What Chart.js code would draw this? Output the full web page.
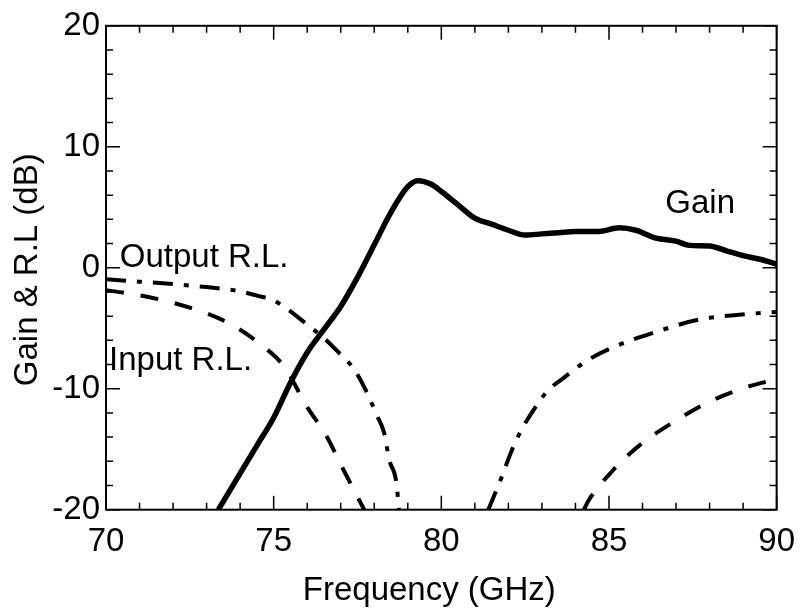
<!DOCTYPE html>
<html>
<head>
<meta charset="utf-8">
<script src="https://cdn.jsdelivr.net/npm/chart.js@4/dist/chart.umd.min.js"></script>
<style>
  html, body { margin: 0; padding: 0; background: #fff; }
  #chart { display: block; }
</style>
</head>
<body>
<canvas id="chart" width="807" height="608"></canvas>
<script>
// values (GHz / dB)
const gainFreq = [73.35, 74, 74.5, 75, 75.5, 76, 76.5, 77, 77.5, 78, 78.5, 79, 79.3, 79.7, 80, 80.5, 81, 81.5, 82, 82.5, 83, 83.5, 84, 84.7, 85.3, 85.8, 86.4, 87, 87.4, 88, 88.5, 89, 89.5, 90];
const gainDb = [-20, -17.0, -14.7, -12.4, -9.5, -7.0, -5.1, -3.2, -0.8, 1.9, 4.6, 6.7, 7.2, 6.9, 6.3, 5.2, 4.1, 3.6, 3.1, 2.7, 2.8, 2.9, 3.0, 3.0, 3.3, 3.1, 2.45, 2.2, 1.85, 1.8, 1.4, 1.0, 0.7, 0.3];

const outputFreq = [70, 71, 72, 73, 73.9, 74.5, 75, 75.5, 76, 76.5, 76.9, 77.4, 77.76, 78.06, 78.3, 78.45, 78.65, 78.74, 80, 81.4, 81.8, 82.1, 82.37, 82.67, 83.16, 83.65, 84.33, 85.1, 86.3, 87.66, 89.04, 90];
const outputDb = [-0.95, -1.15, -1.35, -1.6, -1.9, -2.3, -2.7, -3.6, -4.7, -5.8, -6.9, -8.4, -10.2, -12.1, -13.7, -15.9, -17.6, -20, null, -20, -17.3, -15.1, -13.5, -12.1, -10.2, -9.1, -7.7, -6.6, -5.4, -4.3, -3.85, -3.65];

const inputFreq = [70, 70.6, 71.4, 72.5, 73.6, 74.5, 75.35, 75.95, 76.55, 77.1, 77.7, 80, 84.25, 84.4, 85.1, 85.9, 86.9, 87.9, 88.95, 90];
const inputDb = [-1.85, -2.1, -2.5, -3.3, -4.5, -6.1, -8.3, -11.3, -13.8, -16.8, -20, null, -20, -19.2, -16.8, -14.7, -12.8, -11.2, -10.0, -9.2];

const xTickValues = [70, 75, 80, 85, 90];
const yTickValues = [-20, -10, 0, 10, 20];

const FONT = `"Liberation Sans", Arial, sans-serif`;

const toPoints = (xs, ys) => xs.map((x, i) => ({x, y: ys[i]}));

const frameAndTicks = {
  id: `frameAndTicks`,
  afterDraw(chart) {
    const {ctx, chartArea: a, scales: {x, y}} = chart;
    ctx.save();
    ctx.strokeStyle = `#000`;
    ctx.lineWidth = 1.5;
    ctx.beginPath();
    for (let f = 70; f <= 90; f++) {
      const px = x.getPixelForValue(f);
      const len = f % 5 === 0 ? 14 : 7;
      ctx.moveTo(px, a.bottom);
      ctx.lineTo(px, a.bottom - len);
      ctx.moveTo(px, a.top);
      ctx.lineTo(px, a.top + len);
    }
    for (let v = -20; v <= 20; v += 2) {
      const py = y.getPixelForValue(v);
      const len = v % 10 === 0 ? 14 : 7;
      ctx.moveTo(a.left, py);
      ctx.lineTo(a.left + len, py);
      ctx.moveTo(a.right, py);
      ctx.lineTo(a.right - len, py);
    }
    ctx.stroke();
    ctx.lineWidth = 2;
    ctx.strokeRect(a.left, a.top, a.right - a.left, a.bottom - a.top);
    ctx.restore();
  }
};

const textLabels = {
  id: `textLabels`,
  afterDraw(chart) {
    const {ctx, chartArea: a, scales: {x, y}} = chart;
    ctx.save();
    ctx.fillStyle = `#000`;
    ctx.font = `33px ${FONT}`;
    ctx.textBaseline = `alphabetic`;
    ctx.textAlign = `left`;
    ctx.fillText(`Output R.L.`, x.getPixelForValue(70.41), y.getPixelForValue(0.04));
    ctx.fillText(`Input R.L.`, x.getPixelForValue(70.09), y.getPixelForValue(-8.44));
    ctx.fillText(`Gain`, x.getPixelForValue(86.68), y.getPixelForValue(4.49));

    ctx.textAlign = `center`;
    ctx.fillText(`Frequency (GHz)`, (a.left + a.right) / 2 - 12, 600);

    ctx.translate(37, (a.top + a.bottom) / 2 + 2);
    ctx.rotate(-Math.PI / 2);
    ctx.fillText(`Gain & R.L (dB)`, 0, 0);
    ctx.restore();
  }
};

const lineStyle = {
  borderColor: `#000`,
  pointRadius: 0,
  fill: false,
  spanGaps: false,
  cubicInterpolationMode: `monotone`
};

new Chart(document.getElementById(`chart`), {
  type: `line`,
  data: {
    datasets: [
      Object.assign({label: `Gain`, data: toPoints(gainFreq, gainDb), borderWidth: 5.5}, lineStyle),
      Object.assign({label: `Output R.L.`, data: toPoints(outputFreq, outputDb), borderWidth: 4, borderDash: [20, 11, 5, 11]}, lineStyle),
      Object.assign({label: `Input R.L.`, data: toPoints(inputFreq, inputDb), borderWidth: 4, borderDash: [18, 17]}, lineStyle)
    ]
  },
  options: {
    responsive: false,
    devicePixelRatio: 1,
    animation: false,
    layout: {padding: {top: 23.5, right: 21, bottom: 0, left: 0}},
    plugins: {
      legend: {display: false},
      tooltip: {enabled: false}
    },
    scales: {
      x: {
        type: `linear`,
        min: 70,
        max: 90,
        afterBuildTicks: (scale) => {
          scale.ticks = xTickValues.map((v) => ({value: v}));
        },
        afterFit: (scale) => {
          scale.height = 98.3;
        },
        grid: {display: false, drawTicks: false},
        border: {display: false},
        ticks: {color: `#000`, padding: 12, maxRotation: 0, autoSkip: false, font: {size: 33, family: FONT}}
      },
      y: {
        type: `linear`,
        min: -20,
        max: 20,
        afterBuildTicks: (scale) => {
          scale.ticks = yTickValues.map((v) => ({value: v}));
        },
        afterFit: (scale) => {
          scale.width = 106;
        },
        grid: {display: false, drawTicks: false},
        border: {display: false},
        ticks: {color: `#000`, padding: 6, autoSkip: false, font: {size: 33, family: FONT}}
      }
    }
  },
  plugins: [frameAndTicks, textLabels]
});
</script>
</body>
</html>
